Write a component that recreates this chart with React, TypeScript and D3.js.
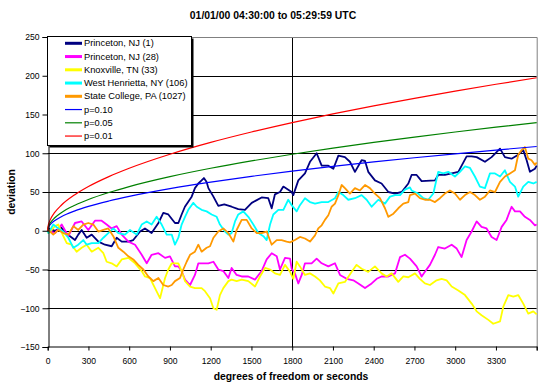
import React, { useEffect, useRef } from "react";
import * as d3 from "d3";

type Pt = [number, number];

// [seconds, deviation]
const princeton1: Pt[] = [[0,0],[5,3],[54,0],[100,4],[127,-2],[164,-7],[201,-12],[225,-5],[250,1],[287,-9],[324,-5],[373,-14],[422,-18],[471,-20],[508,-9],[545,-14],[594,-14],[630,-12],[680,-1],[716,3],[765,-3],[815,10],[851,23],[888,21],[937,10],[962,10],[986,21],[1010,31],[1060,44],[1084,55],[1109,61],[1133,65],[1150,68],[1170,63],[1183,55],[1220,44],[1256,32],[1300,34],[1354,31],[1403,28],[1452,27],[1502,36],[1575,43],[1624,42],[1649,29],[1673,47],[1710,50],[1735,57],[1771,53],[1796,50],[1808,46],[1845,65],[1894,74],[1931,89],[1980,100],[2017,84],[2066,84],[2103,80],[2140,97],[2188,95],[2225,89],[2262,76],[2311,91],[2336,90],[2360,76],[2409,65],[2458,61],[2508,50],[2557,48],[2606,50],[2655,61],[2679,72],[2716,72],[2753,64],[2851,65],[2875,72],[2924,72],[2974,74],[3023,76],[3084,96],[3121,96],[3158,95],[3219,89],[3268,95],[3330,106],[3366,95],[3415,93],[3464,98],[3501,104],[3526,91],[3550,76],[3587,80],[3600,84]];

const princeton28: Pt[] = [[0,0],[5,0],[54,-3],[103,8],[152,-7],[201,10],[250,12],[299,1],[348,13],[397,13],[434,8],[471,3],[508,6],[545,-5],[594,-14],[643,-18],[692,-31],[729,-42],[765,-31],[815,-29],[864,-35],[900,-33],[937,-46],[962,-46],[986,-52],[1011,-63],[1048,-70],[1084,-57],[1109,-42],[1183,-42],[1220,-40],[1256,-50],[1293,-52],[1330,-61],[1354,-48],[1391,-57],[1428,-59],[1477,-59],[1526,-63],[1575,-52],[1612,-37],[1649,-29],[1686,-33],[1710,-50],[1747,-35],[1784,-36],[1796,-49],[1820,-55],[1845,-68],[1870,-57],[1894,-42],[1943,-42],[1980,-36],[2017,-42],[2066,-46],[2115,-42],[2152,-57],[2201,-62],[2250,-64],[2287,-68],[2336,-74],[2385,-68],[2422,-62],[2458,-59],[2508,-59],[2557,-55],[2594,-34],[2630,-31],[2667,-36],[2716,-46],[2753,-59],[2777,-53],[2814,-44],[2851,-31],[2875,-21],[2924,-23],[2974,-18],[3011,-23],[3047,-34],[3084,-12],[3121,-1],[3158,12],[3194,5],[3231,3],[3268,-8],[3305,-12],[3342,5],[3378,14],[3415,31],[3440,25],[3477,25],[3513,18],[3550,14],[3587,7],[3600,8]];

const knoxville33: Pt[] = [[0,0],[5,-3],[54,6],[78,8],[115,-7],[140,-16],[176,-18],[213,-27],[250,-22],[287,-18],[324,-27],[373,-22],[410,-29],[434,-40],[471,-42],[508,-46],[545,-37],[594,-35],[643,-42],[692,-52],[716,-59],[753,-61],[790,-74],[827,-87],[864,-61],[888,-50],[913,-42],[962,-42],[986,-52],[1011,-65],[1048,-72],[1084,-74],[1133,-74],[1158,-78],[1195,-87],[1220,-100],[1244,-102],[1268,-83],[1293,-74],[1330,-65],[1354,-63],[1391,-65],[1428,-63],[1477,-65],[1526,-72],[1563,-59],[1600,-48],[1637,-50],[1673,-55],[1710,-57],[1747,-44],[1784,-53],[1808,-62],[1833,-40],[1857,-46],[1894,-57],[1931,-55],[1968,-59],[2004,-64],[2041,-72],[2078,-74],[2103,-81],[2140,-68],[2188,-66],[2238,-53],[2274,-44],[2311,-49],[2360,-53],[2409,-46],[2458,-55],[2495,-59],[2532,-55],[2581,-66],[2618,-59],[2655,-60],[2704,-55],[2740,-62],[2777,-68],[2814,-70],[2863,-64],[2900,-62],[2937,-64],[2974,-72],[3023,-77],[3072,-83],[3121,-94],[3158,-104],[3194,-109],[3244,-115],[3280,-120],[3330,-117],[3354,-98],[3391,-83],[3428,-85],[3464,-83],[3501,-94],[3538,-107],[3575,-104],[3600,-108]];

const westHenrietta106: Pt[] = [[0,0],[5,-3],[41,8],[78,3],[115,-1],[152,-9],[189,-22],[225,-18],[262,-12],[287,-18],[324,-16],[373,-16],[410,-9],[446,-3],[483,3],[520,-3],[569,-5],[606,1],[655,-5],[692,8],[729,12],[765,8],[802,18],[839,8],[876,-5],[913,-5],[937,-18],[962,-9],[986,8],[1011,18],[1035,27],[1072,36],[1097,31],[1133,27],[1170,25],[1207,21],[1244,18],[1268,8],[1305,-1],[1330,-5],[1354,-3],[1379,12],[1403,21],[1440,25],[1477,18],[1514,8],[1551,-3],[1588,-7],[1612,-12],[1637,8],[1661,21],[1698,27],[1735,27],[1771,40],[1796,33],[1833,25],[1857,33],[1894,42],[1931,37],[1968,35],[2017,37],[2066,37],[2115,42],[2140,50],[2176,46],[2213,40],[2262,42],[2311,46],[2348,40],[2385,31],[2434,40],[2483,35],[2520,44],[2557,46],[2594,46],[2630,53],[2667,56],[2679,52],[2728,48],[2765,42],[2802,40],[2839,48],[2875,76],[2912,74],[2949,76],[2998,70],[3035,76],[3072,83],[3109,81],[3145,70],[3182,57],[3219,55],[3256,74],[3293,74],[3330,70],[3366,78],[3403,63],[3440,57],[3464,44],[3501,57],[3538,63],[3575,61],[3600,63]];

const stateCollege1027: Pt[] = [[0,0],[5,1],[41,-5],[78,1],[115,-3],[152,-5],[189,6],[225,1],[262,8],[299,10],[336,8],[373,-1],[410,1],[446,3],[483,-7],[520,-22],[557,-27],[594,-33],[630,-37],[667,-44],[704,-50],[741,-59],[778,-65],[815,-61],[851,-70],[888,-72],[913,-70],[937,-65],[974,-61],[998,-50],[1023,-40],[1048,-31],[1084,-27],[1109,-18],[1133,-27],[1170,-22],[1195,-20],[1220,-9],[1256,-1],[1293,3],[1330,-3],[1367,-14],[1391,1],[1428,14],[1465,14],[1502,3],[1539,-3],[1575,-3],[1612,-1],[1649,-18],[1686,-12],[1722,-12],[1759,-14],[1784,-15],[1820,-12],[1857,-8],[1894,-10],[1931,-14],[1968,-6],[1992,3],[2017,7],[2041,14],[2066,20],[2090,31],[2115,35],[2140,46],[2164,59],[2188,55],[2225,48],[2262,55],[2299,52],[2336,59],[2372,55],[2409,48],[2446,42],[2483,29],[2508,18],[2545,22],[2581,29],[2618,35],[2655,37],[2667,46],[2704,48],[2740,42],[2777,40],[2814,40],[2851,37],[2888,42],[2924,48],[2961,52],[2998,48],[3035,40],[3072,46],[3109,50],[3145,46],[3182,40],[3219,44],[3256,52],[3293,50],[3330,63],[3366,70],[3403,74],[3440,78],[3464,98],[3489,104],[3513,108],[3538,93],[3562,91],[3587,85],[3600,88]];

// significance envelopes, read at these seconds
const pTimes = [0, 2, 10, 25, 50, 100, 200, 300, 450, 600, 900, 1200, 1500, 1800, 2100, 2400, 2700, 3000, 3300, 3600];
const p10 = [0, 2.6, 5.7, 9.1, 12.8, 18.1, 25.6, 31.4, 38.4, 44.4, 54.4, 62.8, 70.2, 76.9, 83.1, 88.8, 94.2, 99.3, 104.1, 108.7];
const p05 = [0, 3.3, 7.4, 11.6, 16.4, 23.3, 32.9, 40.3, 49.3, 57.0, 69.8, 80.6, 90.1, 98.7, 106.6, 114.0, 120.9, 127.4, 133.6, 139.6];
const p01 = [0, 4.7, 10.4, 16.4, 23.3, 32.9, 46.5, 57.0, 69.8, 80.6, 98.7, 114.0, 127.4, 139.6, 150.8, 161.2, 170.9, 180.2, 189.0, 197.4];

const xTicks = [0, 300, 600, 900, 1200, 1500, 1800, 2100, 2400, 2700, 3000, 3300];
const yTicks = [-150, -100, -50, 0, 50, 100, 150, 200, 250];

const seriesNames = ["Princeton, NJ (1)", "Princeton, NJ (28)", "Knoxville, TN (33)", "West Henrietta, NY (106)", "State College, PA (1027)"];
const pNames = ["p=0.10", "p=0.05", "p=0.01"];

const FONT = "Arial, 'Liberation Sans', sans-serif";

const App: React.FC = () => {
  const svgRef = useRef<SVGSVGElement>(null);

  useEffect(() => {
    const width = 545;
    const height = 388;
    const left = 47.7, right = 536.7, top = 37, bottom = 347;

    const svg = d3.select(svgRef.current).attr("width", width).attr("height", height);
    svg.selectAll("*").remove();
    svg.append("rect").attr("width", width).attr("height", height).attr("fill", "#fff");

    const x = d3.scaleLinear().domain([0, 3600]).range([left, right]);
    const y = d3.scaleLinear().domain([-150, 250]).range([bottom, top]);

    // gridlines
    svg.append("g")
      .selectAll("line")
      .data(yTicks.filter(t => t > -150 && t < 250))
      .enter()
      .append("line")
      .attr("x1", left).attr("x2", right)
      .attr("y1", d => Math.round(y(d)) + 0.5).attr("y2", d => Math.round(y(d)) + 0.5)
      .attr("stroke", "#000").attr("stroke-width", 1);

    svg.append("line")
      .attr("x1", Math.round(x(1800)) + 0.5).attr("x2", Math.round(x(1800)) + 0.5)
      .attr("y1", top).attr("y2", bottom)
      .attr("stroke", "#000");

    // plot border (top/right gray)
    svg.append("path")
      .attr("d", `M${left},${top + 0.5}H${right + 0.5}V${bottom}`)
      .attr("fill", "none").attr("stroke", "#808080");

    const line = d3.line<Pt>().x(d => x(d[0])).y(d => y(d[1]));
    const seriesData = [princeton1, princeton28, knoxville33, westHenrietta106, stateCollege1027];
    const seriesColors = ["#000080", "#FF00FF", "#FFFF00", "#00FFFF", "#FF9900"];

    seriesData.forEach((s, i) => {
      svg.append("path").datum(s)
        .attr("d", line)
        .attr("fill", "none")
        .attr("stroke", seriesColors[i])
        .attr("stroke-width", 1.8)
        .attr("stroke-linejoin", "round");
    });

    const pLine = d3.line<number>().x((_, i) => x(pTimes[i])).y(d => y(d)).curve(d3.curveMonotoneX);
    const pData = [p10, p05, p01];
    const pColors = ["#0000FF", "#008000", "#FF0000"];
    pData.forEach((s, i) => {
      svg.append("path").datum(s)
        .attr("d", pLine)
        .attr("fill", "none")
        .attr("stroke", pColors[i])
        .attr("stroke-width", 1.2);
    });

    // axes
    const yAxis = svg.append("g").attr("transform", `translate(${Math.round(left) + 0.5},0)`)
      .call(d3.axisLeft(y).tickValues(yTicks).tickSize(6).tickPadding(3).tickFormat(d3.format("d")));
    const xAxis = svg.append("g").attr("transform", `translate(0,${bottom - 0.5})`)
      .call(d3.axisBottom(x).tickValues([...xTicks, 3600]).tickSize(4).tickPadding(7)
        .tickFormat(d => (+d === 3600 ? "" : String(d))));
    [yAxis, xAxis].forEach(a => {
      a.select(".domain").attr("stroke", "#000");
      a.selectAll(".tick line").attr("stroke", "#000");
      a.selectAll("text").attr("font-family", FONT).attr("font-size", 8.6).attr("fill", "#000");
    });

    // titles
    svg.append("text").attr("x", 273).attr("y", 15).attr("text-anchor", "middle")
      .attr("dominant-baseline", "central").attr("font-family", FONT).attr("font-weight", "bold")
      .attr("font-size", 10.4).text("01/01/00 04:30:00 to 05:29:59 UTC");
    svg.append("text").attr("x", 291).attr("y", 376).attr("text-anchor", "middle")
      .attr("dominant-baseline", "central").attr("font-family", FONT).attr("font-weight", "bold")
      .attr("font-size", 10.4).text("degrees of freedom or seconds");
    svg.append("text").attr("transform", "translate(11,192) rotate(-90)").attr("text-anchor", "middle")
      .attr("dominant-baseline", "central").attr("font-family", FONT).attr("font-weight", "bold")
      .attr("font-size", 10.4).text("deviation");

    // legend
    const lx = 47.5, ly = 36.5, lw = 144, lh = 109;
    const legend = svg.append("g");
    legend.append("rect").attr("x", lx + 2).attr("y", ly + 2).attr("width", lw).attr("height", lh).attr("fill", "#000");
    legend.append("rect").attr("x", lx).attr("y", ly).attr("width", lw).attr("height", lh)
      .attr("fill", "#fff").attr("stroke", "#000").attr("stroke-width", 1);

    const items = [
      ...seriesNames.map((n, i) => ({ name: n, color: seriesColors[i], w: 3 })),
      ...pNames.map((n, i) => ({ name: n, color: pColors[i], w: 1.2 })),
    ];
    const li = legend.selectAll("g.item").data(items).enter().append("g")
      .attr("transform", (_, i) => `translate(0,${43.3 + i * 13.25})`);
    li.append("line").attr("x1", 65).attr("x2", 82).attr("y1", 0).attr("y2", 0)
      .attr("stroke", d => d.color).attr("stroke-width", d => d.w);
    li.append("text").attr("x", 84).attr("y", 0).attr("dominant-baseline", "central")
      .attr("font-family", FONT).attr("font-size", 9.3).text(d => d.name);
  }, []);

  return (
    <div style={{ position: "absolute", left: 0, top: 0 }}>
      <svg ref={svgRef} style={{ display: "block" }}></svg>
    </div>
  );
};

export default App;
